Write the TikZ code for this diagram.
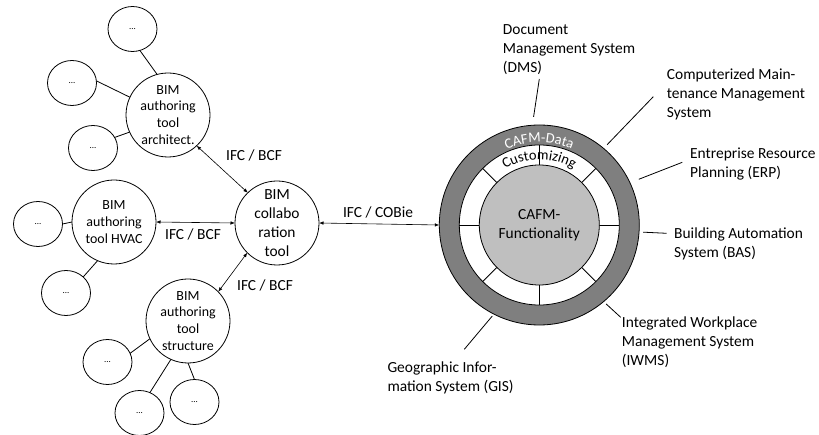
\documentclass[tikz,border=0pt]{standalone}
\usepackage{fontspec}
\setmainfont{Carlito}
\usetikzlibrary{shapes.geometric,arrows.meta,decorations.text}
\definecolor{ringgray}{RGB}{127,127,127}
\definecolor{innergray}{RGB}{191,191,191}
\begin{document}
\begin{tikzpicture}[x=1bp,y=1bp,
 big/.style={circle, draw, line width=0.8bp, minimum size=84bp, inner sep=0pt, outer sep=0pt, align=center, font=\fontsize{14}{17}\selectfont},
 sat/.style={ellipse, draw, line width=0.8bp, minimum width=49bp, minimum height=45bp, inner sep=0pt, outer sep=0pt, font=\fontsize{9}{10}\selectfont},
 lbl/.style={inner sep=0pt, font=\fontsize{15.5}{19}\selectfont},
 txt/.style={inner sep=0pt, anchor=north west, align=left, font=\fontsize{15.5}{19}\selectfont},
 link/.style={line width=0.8bp},
 xarrow/.style={line width=0.6bp, {Latex[length=4.5bp,width=3.5bp]}-{Latex[length=4.5bp,width=3.5bp]}},
 leader/.style={line width=0.8bp}]
\useasboundingbox (0,0) rectangle (819,-435);
% BIM side
\node[big] (arch) at (168,-115) {BIM\\authoring\\tool\\architect.};
\node[big] (hvac) at (114,-222) {BIM\\authoring\\tool HVAC};
\node[big, font=\fontsize{15.5}{19}\selectfont] (collab) at (277,-223) {BIM\\collabo\\ration\\tool};
\node[big] (struct) at (188,-321) {BIM\\authoring\\tool\\structure};
\node[sat] (a1) at (132.5,-29) {...};
\node[sat] (a2) at (72,-83) {...};
\node[sat] (a3) at (93,-148) {...};
\node[sat] (h1) at (38,-224) {...};
\node[sat] (h2) at (66,-293) {...};
\node[sat] (s1) at (107.5,-362) {...};
\node[sat] (s2) at (139.5,-413) {...};
\node[sat] (s3) at (194.5,-402) {...};
\draw[link] (a1.-71) -- (arch.105);
\draw[link] (a2.5) -- (arch.155);
\draw[link] (a3.26) -- (arch.204);
\draw[link] (h1.east) -- (hvac.west);
\draw[link] (h2.43) -- (hvac.247);
\draw[link] (s1.21) -- (struct.205);
\draw[link] (s2.63) -- (struct.246);
\draw[link] (s3.90) -- (struct.270);
% CAFM
\node[circle, draw, line width=0.8bp, fill=ringgray, minimum size=200bp, inner sep=0pt, outer sep=0pt] (cafm) at (539.3,-225) {};
\filldraw[fill=white, draw=black, line width=0.8bp] (cafm.center) circle (80bp);
\foreach \a in {0,45,...,315}
  \draw[line width=0.8bp] (cafm.center) ++(\a:60bp) -- ++(\a:20bp);
\node[circle, draw, line width=0.8bp, fill=innergray, minimum size=120bp, inner sep=0pt, outer sep=0pt, align=center, font=\fontsize{15.5}{19}\selectfont] (func) at (cafm.center) {CAFM-\\Functionality};
\path[decorate, decoration={text along path, text align=center, text={|\fontsize{14.5}{17}\selectfont\color{white}|CAFM-Data}}] (cafm.center) ++(160:82.5bp) arc[start angle=160, end angle=20, radius=82.5bp];
\path[decorate, decoration={text along path, text align=center, text={|\fontsize{14.5}{17}\selectfont|Customizing}}] (cafm.center) ++(160:65.5bp) arc[start angle=160, end angle=20, radius=65.5bp];
% arrows
\draw[xarrow] (arch.-47) -- (collab.134);
\draw[xarrow] (hvac.east) -- (collab.west);
\draw[xarrow] (struct.44) -- (collab.225);
\draw[xarrow] (collab.east) -- (cafm.west);
\node[lbl] (l1) at (254,-155) {IFC / BCF};
\node[lbl] (l2) at (193,-234) {IFC / BCF};
\node[lbl] (l3) at (265,-285) {IFC / BCF};
\node[lbl] (l4) at (378,-212) {IFC / COBie};
% labels
\node[txt] (dms) at (502.7,-24.7) {Document\\Management System\\(DMS)};
\node[txt] (cmms) at (666.7,-69) {Computerized Main-\\tenance Management\\System};
\node[txt] (erp) at (690,-148) {Entreprise Resource\\Planning (ERP)};
\node[txt] (bas) at (674,-228) {Building Automation\\System (BAS)};
\node[txt] (iwms) at (621.7,-317) {Integrated Workplace\\Management System\\(IWMS)};
\node[txt] (gis) at (387.3,-362) {Geographic Infor-\\mation System (GIS)};
\coordinate (dmsP) at (539.3,-79);
\coordinate (cmmsP) at (653.3,-96.7);
\coordinate (erpP) at (682.3,-162.3);
\coordinate (basP) at (666.7,-233.3);
\coordinate (iwmsP) at (620.7,-317.3);
\coordinate (gisP) at (464.3,-349.3);
\draw[leader, shorten >=8.5bp] (dmsP) -- (cafm.94);
\draw[leader, shorten >=5bp] (cmmsP) -- (cafm.50);
\draw[leader, shorten >=9.5bp] (erpP) -- (cafm.25);
\draw[leader, shorten >=4bp] (basP) -- (cafm.-4.6);
\draw[leader, shorten >=3.5bp] (iwmsP) -- (cafm.-50);
\draw[leader, shorten >=2.5bp] (gisP) -- (cafm.-117);
\end{tikzpicture}
\end{document}
